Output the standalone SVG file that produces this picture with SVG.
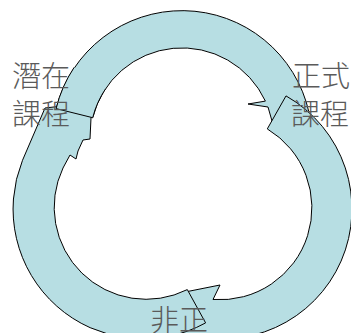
<svg xmlns="http://www.w3.org/2000/svg" width="351" height="333" viewBox="0 0 351 333">
  <style>
    .arrow { fill: #b7dee3; stroke: #000; stroke-width: 1; stroke-linejoin: miter; }
    .fillonly { fill: #b7dee3; stroke: none; }
    .lineonly { fill: none; stroke: #000; stroke-width: 1; }
    .label { font-family: "Noto Sans CJK TC", "Noto Sans CJK SC", sans-serif; font-size: 29px; font-weight: 300; fill: #5a5a5a; }
  </style>
  <rect width="351" height="333" fill="#fff"/>
  <g id="connectors">
    <path id="arrow-top" class="arrow" d="M 56.1,108.6 A 130 130 0 0 1 309,112.5 L 290,120 L 274,128 L 268,107 L 248,104 L 265.4,101.1 A 92 92 0 0 0 92.7,117.7 Z"/>
    <path id="arrow-right" class="arrow" d="M 286,95.9 A 130 130 0 0 1 182.5,332.9 L 180,318 L 185,292 L 220,285 L 213,299.5 A 92 92 0 0 0 267.3,128.9 Z"/>
    <path id="arrow-left" class="arrow" d="M 205.6,322.9 A 130 130 0 0 1 22.5,160.3 L 45,108 L 58,106.5 L 75,105 L 92,110 L 91,118 L 90,139 L 83,140 L 78,151 L 76,159 L 70,155 L 63,168 A 92 92 0 0 0 187.3,289.6 Z"/>
    <g id="arrow-top-tail">
      <path class="fillonly" d="M 56.1,108.6 A 130 130 0 0 1 74.2,67.3 L 105.7,88.6 A 92 92 0 0 0 92.7,117.7 Z"/>
      <path class="lineonly" d="M 74.2,67.3 A 130 130 0 0 0 56.1,108.6 L 92.7,117.7 A 92 92 0 0 1 105.7,88.6"/>
    </g>
  </g>
  <g id="node-latent">
    <text class="label" x="12" y="87">潛在</text>
    <text class="label" x="12" y="125">課程</text>
  </g>
  <g id="node-formal">
    <text class="label" x="292" y="87">正式</text>
    <text class="label" x="291" y="125">課程</text>
  </g>
  <g id="node-informal">
    <text class="label" x="150" y="331">非正</text>
  </g>
</svg>
